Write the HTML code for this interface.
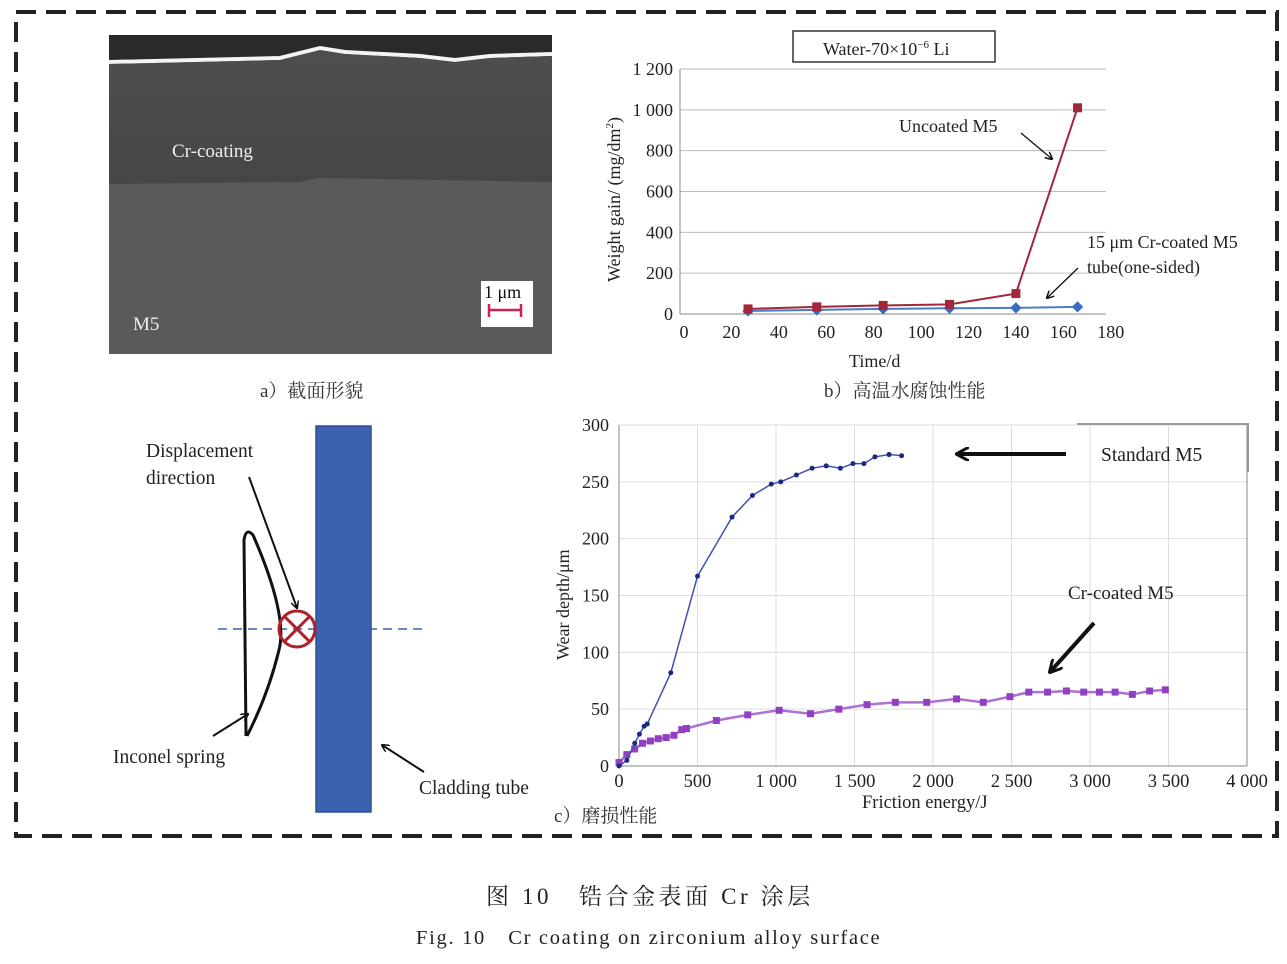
<!DOCTYPE html>
<html><head><meta charset="utf-8"><style>
html,body{margin:0;padding:0;background:#fff;}
svg{display:block;font-family:"Liberation Serif","Noto Serif CJK SC",serif;}
</style></head><body>
<svg id="s" width="1287" height="964" viewBox="0 0 1287 964" xmlns="http://www.w3.org/2000/svg">
<defs>
<linearGradient id="coat" x1="0" y1="0" x2="0" y2="1">
<stop offset="0" stop-color="#4e4e4e"/><stop offset="1" stop-color="#464646"/>
</linearGradient>
<marker id="ah" markerWidth="8" markerHeight="8" refX="7" refY="4" orient="auto" markerUnits="userSpaceOnUse"><path d="M0,0 L8,4 L0,8" fill="none" stroke="#111" stroke-width="1.5"/></marker>
<marker id="ah2" markerWidth="14" markerHeight="14" refX="12" refY="7" orient="auto" markerUnits="userSpaceOnUse"><path d="M0,0 L13,7 L0,14" fill="none" stroke="#111" stroke-width="3"/></marker>
</defs>
<rect x="16" y="12" width="1261" height="824" fill="none" stroke="#222" stroke-width="4" stroke-dasharray="20,10"/>

<!-- a) SEM image -->
<rect x="109" y="35" width="443" height="319" fill="#5a5a5a"/>
<rect x="109" y="35" width="443" height="26" fill="#2a2a2a"/>
<path d="M109,62 L280,58 L320,48 L345,52 L420,56 L455,60 L490,56 L552,54" stroke="#f4f4f4" stroke-width="4" fill="none"/>
<path d="M109,64 L280,60 L320,50 L345,54 L420,58 L455,62 L490,58 L552,56 L552,182 L320,178 L300,182 L109,184 Z" fill="url(#coat)"/>
<text x="172" y="157" font-size="19" fill="#eee">Cr-coating</text>
<text x="133" y="330" font-size="19" fill="#eee">M5</text>
<rect x="481" y="281" width="52" height="46" fill="#fff"/>
<text x="484" y="298" font-size="18" fill="#111">1 μm</text>
<path d="M489,304 v13 M489,310 h32 M521,304 v13" stroke="#d02050" stroke-width="2.5" fill="none"/>
<text x="260" y="397" font-size="19" fill="#333">a）截面形貌</text>

<!-- b) chart -->
<g id="b"></g>
<rect x="793" y="31" width="202" height="31" fill="#fff" stroke="#333" stroke-width="1.5"/>
<text x="823" y="55" font-size="18" fill="#222">Water-70×10<tspan font-size="11" dy="-7">−6</tspan><tspan dy="7"> Li</tspan></text>
<text x="899" y="132" font-size="18" fill="#222">Uncoated M5</text>
<line x1="1021" y1="133" x2="1052" y2="159" stroke="#111" stroke-width="1.3" marker-end="url(#ah)"/>
<text x="1087" y="248" font-size="18" fill="#222">15 μm Cr-coated M5</text>
<text x="1087" y="273" font-size="18" fill="#222">tube(one-sided)</text>
<line x1="1078" y1="268" x2="1047" y2="298" stroke="#111" stroke-width="1.3" marker-end="url(#ah)"/>
<text x="849" y="367" font-size="18" fill="#222">Time/d</text>
<text transform="translate(620,282) rotate(-90)" font-size="18" fill="#222">Weight gain/ (mg/dm<tspan font-size="11" dy="-7">2</tspan><tspan dy="7">)</tspan></text>
<text x="824" y="397" font-size="19" fill="#333">b）高温水腐蚀性能</text>

<!-- schematic -->
<rect x="316" y="426" width="55" height="386" fill="#3a62b0" stroke="#2e4f90" stroke-width="1.5"/>
<line x1="218" y1="629" x2="425" y2="629" stroke="#3a62b0" stroke-width="1.5" stroke-dasharray="9,6"/>
<path d="M246,736 L244,540 Q246,527 253,535 Q288,615 279,650 Q268,695 247,736" fill="none" stroke="#111" stroke-width="3"/>
<circle cx="297" cy="629" r="18" fill="none" stroke="#b0202a" stroke-width="3"/>
<path d="M284,616 L310,642 M310,616 L284,642" stroke="#b0202a" stroke-width="3"/>
<text x="146" y="457" font-size="19.5" fill="#222">Displacement</text>
<text x="146" y="484" font-size="19.5" fill="#222">direction</text>
<line x1="249" y1="477" x2="297" y2="608" stroke="#111" stroke-width="2" marker-end="url(#ah)"/>
<text x="113" y="763" font-size="19.5" fill="#222">Inconel spring</text>
<line x1="213" y1="736" x2="248" y2="714" stroke="#111" stroke-width="2" marker-end="url(#ah)"/>
<text x="419" y="794" font-size="19.5" fill="#222">Cladding tube</text>
<line x1="424" y1="772" x2="382" y2="745" stroke="#111" stroke-width="2" marker-end="url(#ah)"/>

<!-- c) chart -->
<g id="c"></g>
<text x="1101" y="461" font-size="19.5" fill="#222">Standard M5</text>
<path d="M1077,424 H1248 V472" fill="none" stroke="#999" stroke-width="2"/>
<line x1="1066" y1="454" x2="957" y2="454" stroke="#111" stroke-width="4" marker-end="url(#ah2)"/>
<text x="1068" y="599" font-size="19" fill="#222">Cr-coated M5</text>
<line x1="1094" y1="623" x2="1050" y2="672" stroke="#111" stroke-width="4" marker-end="url(#ah2)"/>
<text x="862" y="808" font-size="18.5" fill="#222">Friction energy/J</text>
<text transform="translate(569,660) rotate(-90)" font-size="18" fill="#222">Wear depth/μm</text>
<text x="554" y="822" font-size="19" fill="#333">c）磨损性能</text>

<!-- caption -->
<text x="486" y="904" font-size="23" fill="#222" letter-spacing="3.6">图 10　锆合金表面 Cr 涂层</text>
<text x="416" y="944" font-size="20.5" fill="#222" letter-spacing="1.7">Fig. 10　Cr coating on zirconium alloy surface</text>
</svg>
<script>
var NS="http://www.w3.org/2000/svg";
function el(p,t,a,txt){var e=document.createElementNS(NS,t);for(var k in a)e.setAttribute(k,a[k]);if(txt!=null)e.textContent=txt;p.appendChild(e);return e;}
var b=document.getElementById('b');
function bx(v){return 684+v*(1106-684)/178;} function by(v){return 314-v*(314-69)/1200;}
for(var v=0;v<=1200;v+=200){el(b,'line',{x1:680,x2:1106,y1:by(v),y2:by(v),stroke:v?'#bbb':'#888','stroke-width':1});
el(b,'text',{x:673,y:by(v)+6,'font-size':18,'text-anchor':'end',fill:'#222'},v>=1000?(v==1000?'1 000':'1 200'):String(v));}
el(b,'line',{x1:680,x2:680,y1:69,y2:314,stroke:'#888'});
for(var v=0;v<=180;v+=20){el(b,'text',{x:bx(v),y:338,'font-size':18,'text-anchor':'middle',fill:'#222'},String(v));}
var red=[[27,25],[56,35],[84,42],[112,47],[140,100],[166,1010]];
var blu=[[27,15],[56,20],[84,25],[112,28],[140,30],[166,35]];
el(b,'polyline',{points:blu.map(p=>bx(p[0])+','+by(p[1])).join(' '),fill:'none',stroke:'#4a7cc8','stroke-width':2});
el(b,'polyline',{points:red.map(p=>bx(p[0])+','+by(p[1])).join(' '),fill:'none',stroke:'#a0283a','stroke-width':2});
blu.forEach(p=>el(b,'rect',{x:bx(p[0])-4,y:by(p[1])-4,width:8,height:8,fill:'#3a6cc0',transform:'rotate(45 '+bx(p[0])+' '+by(p[1])+')'}));
red.forEach(p=>el(b,'rect',{x:bx(p[0])-4.5,y:by(p[1])-4.5,width:9,height:9,fill:'#a0283a'}));
var c=document.getElementById('c');
function cx(v){return 619+v*(1247-619)/4000;} function cy(v){return 766-v*(766-425)/300;}
for(var v=0;v<=300;v+=50){el(c,'line',{x1:619,x2:1247,y1:cy(v),y2:cy(v),stroke:'#ddd'});
el(c,'text',{x:609,y:cy(v)+6,'font-size':18,'text-anchor':'end',fill:'#222'},String(v));}
for(var v=0;v<=4000;v+=500){el(c,'line',{x1:cx(v),x2:cx(v),y1:425,y2:766,stroke:v?'#ddd':'#888'});
el(c,'text',{x:cx(v),y:787,'font-size':18.5,'text-anchor':'middle',fill:'#222'},v>=1000?(Math.floor(v/1000)+' '+String(v%1000).padStart(3,'0')):String(v));}
el(c,'line',{x1:619,x2:1247,y1:766,y2:766,stroke:'#888'});
el(c,'line',{x1:1247,x2:1247,y1:425,y2:766,stroke:'#888'});
var S=[[0,0],[50,5],[100,20],[130,28],[160,35],[180,37],[330,82],[500,167],[720,219],[850,238],[970,248],[1030,250],[1130,256],[1230,262],[1320,264],[1410,262],[1490,266],[1560,266],[1630,272],[1720,274],[1800,273]];
var P=[[0,3],[50,10],[100,15],[150,20],[200,22],[250,24],[300,25],[350,27],[400,32],[430,33],[620,40],[820,45],[1020,49],[1220,46],[1400,50],[1580,54],[1760,56],[1960,56],[2150,59],[2320,56],[2490,61],[2610,65],[2730,65],[2850,66],[2960,65],[3060,65],[3160,65],[3270,63],[3380,66],[3480,67]];
el(c,'polyline',{points:P.map(p=>cx(p[0])+','+cy(p[1])).join(' '),fill:'none',stroke:'#b070d0','stroke-width':2.5});
P.forEach(p=>el(c,'rect',{x:cx(p[0])-3.5,y:cy(p[1])-3.5,width:7,height:7,fill:'#9040c0'}));
el(c,'polyline',{points:S.map(p=>cx(p[0])+','+cy(p[1])).join(' '),fill:'none',stroke:'#4050b0','stroke-width':1.5,'stroke-linejoin':'round'});
S.forEach(p=>el(c,'circle',{cx:cx(p[0]),cy:cy(p[1]),r:2.5,fill:'#1a2a80'}));
</script>
</body></html>
